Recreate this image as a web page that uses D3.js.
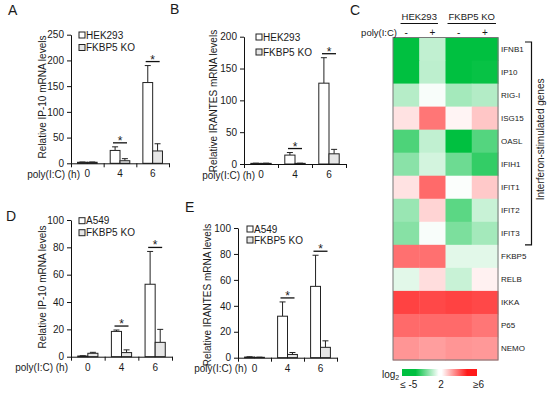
<!DOCTYPE html>
<html>
<head>
<meta charset="utf-8">
<script src="https://cdn.jsdelivr.net/npm/d3@7"></script>
<style>
  body { margin: 0; background: #fff; }
  svg text { font-family: "Liberation Sans", Arial, sans-serif; fill: #1a1a1a; }
</style>
</head>
<body>
<div class="chart"></div>
<script>
// Bar panels share the poly(I:C) timepoints
var timepoints = ["0", "4", "6"];

// A: IP-10 in HEK293 vs FKBP5 KO
var aWt = [2, 25, 157], aWtErr = [0.5, 7, 33];
var aKo = [2, 5, 24], aKoErr = [0.5, 4, 14];
// B: IRANTES in HEK293 vs FKBP5 KO
var bWt = [1, 14, 127], bWtErr = [0.3, 4, 40];
var bKo = [1, 1, 16], bKoErr = [0.3, 0.3, 7];
// D: IP-10 in A549 vs FKBP5 KO
var dWt = [0.5, 18.5, 53], dWtErr = [0.2, 1, 24];
var dKo = [2.5, 3, 10.5], dKoErr = [0.7, 2, 9.5];
// E: IRANTES in A549 vs FKBP5 KO
var eWt = [0.5, 32, 55], eWtErr = [0.2, 11, 24];
var eKo = [0.3, 2.5, 8], eKoErr = [0.1, 1.5, 5];

// timepoints marked with *
var sigPoints = ["4", "6"];

var yTicksA = [0, 50, 100, 150, 200, 250];
var yTicksB = [0, 50, 100, 150, 200];
var yTicksDE = [0, 20, 40, 60, 80, 100];

// C: heatmap, log2 values
var heatGroups = ["HEK293", "FKBP5 KO"];
var heatTreatment = ["-", "+", "-", "+"];
var heatGenes = ["IFNB1", "IP10", "RIG-I", "ISG15", "OASL", "IFIH1", "IFIT1",
                 "IFIT2", "IFIT3", "FKBP5", "RELB", "IKKA", "P65", "NEMO"];
var heatLog2 = [
  [-5, 0.3, -5, -5],
  [-5, 0.2, -5, -4.8],
  [0, 1.8, -0.5, -0.1],
  [2.5, 4.4, 2.2, 3],
  [-2.9, 0.3, -5, -2.7],
  [-1.2, 0.8, -2, -3.6],
  [2.5, 4.6, 1.9, 2.95],
  [-0.8, 2.75, -2.5, 0.5],
  [-1.3, 1.8, -1.6, -0.5],
  [4.5, 4.5, 1.2, 1.2],
  [1.2, 2.6, 0.5, 2.25],
  [5.3, 5.2, 5.3, 5.2],
  [4.6, 4.6, 4.6, 4.4],
  [3.85, 3.7, 3.85, 3.8]
];
var legendLabels = ["\u2264 -5", "2", "\u22656"];

var svg = d3.select(".chart")
  .append("svg")
  .attr("width", 550)
  .attr("height", 395);

// draws one bar chart panel (two series with upward error bars)
function barPanel(o) {
  var g = svg.append("g");

  var x = d3.scaleBand().domain(timepoints).range([o.x0, o.x1]);
  var bw = x.bandwidth();
  var xs = d3.scaleBand().domain([0, 1]).range([bw * 0.2, bw * 0.8]);
  var y = d3.scaleLinear().domain([0, o.yMax]).range([o.yBottom, o.yTop]);

  var series = [
    { vals: o.wt, err: o.wtErr, fill: "#ffffff" },
    { vals: o.ko, err: o.koErr, fill: "#e6e6e6" }
  ];

  series.forEach(function(s, si) {
    timepoints.forEach(function(t, i) {
      var cx = x(t) + xs(si) + xs.bandwidth() / 2;
      var top = y(s.vals[i] + s.err[i]);
      // error bar
      g.append("line")
        .attr("x1", cx).attr("x2", cx)
        .attr("y1", y(s.vals[i])).attr("y2", top)
        .attr("stroke", "#222").attr("stroke-width", 1);
      g.append("line")
        .attr("x1", cx - 3).attr("x2", cx + 3)
        .attr("y1", top).attr("y2", top)
        .attr("stroke", "#222").attr("stroke-width", 1);
      g.append("rect")
        .attr("x", x(t) + xs(si))
        .attr("y", y(s.vals[i]))
        .attr("width", xs.bandwidth())
        .attr("height", y(0) - y(s.vals[i]))
        .attr("fill", s.fill)
        .attr("stroke", "#222")
        .attr("stroke-width", 1);
    });
  });

  // significance bars
  sigPoints.forEach(function(t) {
    var i = timepoints.indexOf(t);
    var hi = Math.max(o.wt[i] + o.wtErr[i], o.ko[i] + o.koErr[i]);
    var ly = y(hi) - 4;
    var cx = x(t) + bw / 2;
    g.append("line")
      .attr("x1", cx - 7).attr("x2", cx + 7)
      .attr("y1", ly).attr("y2", ly)
      .attr("stroke", "#111").attr("stroke-width", 1.3);
    g.append("text")
      .attr("x", cx).attr("y", ly + 2)
      .attr("text-anchor", "middle")
      .attr("font-size", "12px")
      .text("*");
  });

  // y axis
  var yAxis = g.append("g")
    .attr("transform", "translate(" + o.x0 + ",0)")
    .call(d3.axisLeft(y).tickValues(o.yTicks).tickSize(4).tickSizeOuter(0).tickPadding(3));
  yAxis.selectAll("text").attr("font-size", "10px").attr("font-family", null);
  yAxis.selectAll("line, path").attr("stroke", "#111");

  // x axis line with boundary ticks
  var edges = d3.scaleLinear().domain([0, 3]).range([o.x0, o.x1]);
  var xAxis = g.append("g")
    .attr("transform", "translate(0," + o.yBottom + ")")
    .call(d3.axisBottom(edges).tickValues([0, 1, 2, 3]).tickSize(4).tickSizeOuter(0).tickFormat(""));
  xAxis.selectAll("line, path").attr("stroke", "#111");

  var xLabels = g.append("g")
    .attr("transform", "translate(0," + o.yBottom + ")")
    .call(d3.axisBottom(x).tickSize(0).tickPadding(7));
  xLabels.select(".domain").remove();
  xLabels.selectAll("text").attr("font-size", "10px").attr("font-family", null);

  g.append("text")
    .attr("x", o.polyX)
    .attr("y", o.yBottom + 14.5)
    .attr("text-anchor", "end")
    .attr("font-size", "10px")
    .text("poly(I:C) (h)");

  // y axis title
  g.append("text")
    .attr("transform", "translate(" + o.titleX + "," + o.titleY + ") rotate(-90)")
    .attr("text-anchor", "middle")
    .attr("font-size", "10px")
    .text(o.title);

  // legend
  [o.wtName, "FKBP5 KO"].forEach(function(name, i) {
    var ly = o.legY + i * o.legGap;
    g.append("rect")
      .attr("x", o.legX).attr("y", ly - 3)
      .attr("width", 6).attr("height", 6)
      .attr("fill", series[i].fill)
      .attr("stroke", "#222").attr("stroke-width", 1);
    g.append("text")
      .attr("x", o.legX + 7).attr("y", ly + 3.6)
      .attr("font-size", "10px")
      .text(name);
  });

  // panel letter
  svg.append("text")
    .attr("x", o.letterX).attr("y", o.letterY)
    .attr("font-size", "14px")
    .text(o.letter);
}

barPanel({ letter: "A", letterX: 8, letterY: 15,
  x0: 71, x1: 169, yTop: 34.7, yBottom: 163.3, yMax: 250, yTicks: yTicksA,
  wt: aWt, wtErr: aWtErr, ko: aKo, koErr: aKoErr, wtName: "HEK293",
  title: "Relative IP-10 mRNA levels", titleX: 45.5, titleY: 97,
  polyX: 80, legX: 79, legY: 35, legGap: 12.5 });

barPanel({ letter: "B", letterX: 170, letterY: 14,
  x0: 244, x1: 346, yTop: 36.7, yBottom: 164, yMax: 200, yTicks: yTicksB,
  wt: bWt, wtErr: bWtErr, ko: bKo, koErr: bKoErr, wtName: "HEK293",
  title: "Relative IRANTES mRNA levels", titleX: 216.5, titleY: 101,
  polyX: 255, legX: 256, legY: 37, legGap: 15 });

barPanel({ letter: "D", letterX: 6, letterY: 221,
  x0: 71, x1: 172, yTop: 220, yBottom: 356.7, yMax: 100, yTicks: yTicksDE,
  wt: dWt, wtErr: dWtErr, ko: dKo, koErr: dKoErr, wtName: "A549",
  title: "Relative IP-10 mRNA levels", titleX: 45.5, titleY: 287,
  polyX: 68, legX: 79, legY: 220.7, legGap: 12 });

barPanel({ letter: "E", letterX: 185, letterY: 212,
  x0: 238, x1: 337, yTop: 228, yBottom: 357.7, yMax: 100, yTicks: yTicksDE,
  wt: eWt, wtErr: eWtErr, ko: eKo, koErr: eKoErr, wtName: "A549",
  title: "Relative IRANTES mRNA levels", titleX: 211, titleY: 295,
  polyX: 247, legX: 247, legY: 229, legGap: 11 });

// ---- C: heatmap ----
var hm = svg.append("g");
var hx = d3.scaleBand().domain(d3.range(4)).range([393, 498]);
var hy = d3.scaleBand().domain(heatGenes).range([37.5, 360]);
var color = d3.scaleLinear()
  .domain([-5, 2, 6])
  .range(["#00c040", "#ffffff", "#ff1a1a"])
  .clamp(true);

heatGenes.forEach(function(gene, r) {
  heatLog2[r].forEach(function(v, c) {
    hm.append("rect")
      .attr("x", hx(c)).attr("y", hy(gene))
      .attr("width", hx.bandwidth() + 0.5).attr("height", hy.bandwidth() + 0.5)
      .attr("fill", color(v));
  });
  hm.append("text")
    .attr("x", 501).attr("y", hy(gene) + hy.bandwidth() / 2)
    .attr("dy", "0.35em")
    .attr("font-size", "8px")
    .attr("fill", "#222")
    .text(gene);
});

hm.append("rect")
  .attr("x", 393).attr("y", 37.5)
  .attr("width", 105).attr("height", 322.5)
  .attr("fill", "none").attr("stroke", "#777").attr("stroke-width", 1);

// column headers
heatGroups.forEach(function(name, i) {
  var cx = (hx(i * 2) + hx(i * 2 + 1) + hx.bandwidth()) / 2;
  var t = hm.append("text")
    .attr("x", cx).attr("y", 20)
    .attr("text-anchor", "middle")
    .attr("font-size", "9.5px")
    .text(name);
  var w = t.node().getComputedTextLength();
  hm.append("line")
    .attr("x1", cx - w / 2 - 1).attr("x2", cx + w / 2 + 1)
    .attr("y1", 23.5).attr("y2", 23.5)
    .attr("stroke", "#111").attr("stroke-width", 1.2);
});
hm.append("text")
  .attr("x", 397).attr("y", 35.5)
  .attr("text-anchor", "end")
  .attr("font-size", "9.5px")
  .text("poly(I:C)");
heatTreatment.forEach(function(s, c) {
  hm.append("text")
    .attr("x", hx(c) + hx.bandwidth() / 2).attr("y", 35.5)
    .attr("text-anchor", "middle")
    .attr("font-size", "10px")
    .text(s);
});

// bracket for interferon-stimulated genes
var brTop = hy("IFNB1") + 4.5, brBot = hy("IFIT3") + hy.bandwidth();
hm.append("path")
  .attr("d", "M525," + brTop + "H531.5V" + brBot + "H525")
  .attr("fill", "none").attr("stroke", "#111").attr("stroke-width", 1.2);
hm.append("text")
  .attr("transform", "translate(543.5," + ((brTop + brBot) / 2 - 4) + ") rotate(-90)")
  .attr("text-anchor", "middle")
  .attr("font-size", "10px")
  .text("Interferon-stimulated genes");

// color legend
var defs = svg.append("defs");
var grad = defs.append("linearGradient").attr("id", "lg");
var stopOffsets = [0, 0.18, 0.49, 0.53, 0.87, 1];
var stopValues = [-5, -5, 2, 2, 6, 6];
stopOffsets.forEach(function(o, i) {
  grad.append("stop").attr("offset", o).attr("stop-color", color(stopValues[i]));
});
var lx = d3.scaleLinear().domain([0, 1]).range([402, 477]);
hm.append("rect")
  .attr("x", lx(0)).attr("y", 369)
  .attr("width", lx(1) - lx(0)).attr("height", 7)
  .attr("fill", "url(#lg)");
var lg = hm.append("text")
  .attr("x", 382).attr("y", 378)
  .attr("font-size", "10px")
  .text("log");
lg.append("tspan").attr("font-size", "7px").attr("dy", 2).text("2");
var labelPos = [0.09, 0.52, 1.02];
legendLabels.forEach(function(l, i) {
  hm.append("text")
    .attr("x", lx(labelPos[i])).attr("y", 387.5)
    .attr("text-anchor", "middle")
    .attr("font-size", "10px")
    .text(l);
});

svg.append("text")
  .attr("x", 350).attr("y", 15)
  .attr("font-size", "14px")
  .text("C");
</script>
</body>
</html>
